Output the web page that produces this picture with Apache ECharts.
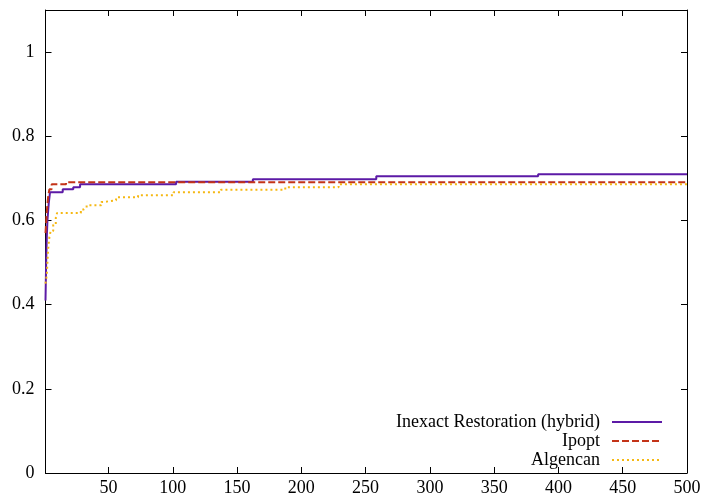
<!DOCTYPE html>
<html>
<head>
<meta charset="utf-8">
<script src="https://cdn.jsdelivr.net/npm/echarts@6/dist/echarts.min.js"></script>
<style>html,body{margin:0;padding:0;background:#fff}#c{width:705px;height:502px}</style>
</head>
<body>
<div id="c"></div>
<script>
const seriesNames = ['Inexact Restoration (hybrid)', 'Ipopt', 'Algencan'];
const irX = [1, 1.5, 2, 2.5, 3, 3.5, 4.5, 14.4, 22.6, 27.9, 102.6, 162.3, 258.3, 384.2, 500];
const irY = [0.41, 0.5, 0.56, 0.6, 0.62, 0.64, 0.667, 0.674, 0.679, 0.686, 0.692, 0.698, 0.705, 0.710, 0.710];
const ipX = [1, 2, 3, 4, 5.8, 17, 500];
const ipY = [0.57, 0.62, 0.655, 0.674, 0.686, 0.691, 0.691];
const alX = [1, 2, 2.5, 3, 4, 5, 7, 9, 10, 28.5, 30.5, 33, 44.4, 46.5, 55.9, 73, 100.6, 137.4, 187.5, 229, 500];
const alY = [0.45, 0.47, 0.5, 0.53, 0.56, 0.575, 0.59, 0.606, 0.618, 0.626, 0.63, 0.636, 0.644, 0.648, 0.655, 0.66, 0.667, 0.673, 0.679, 0.686, 0.686];
const xTicks = [50, 100, 150, 200, 250, 300, 350, 400, 450, 500];
const yTicks = [0, 0.2, 0.4, 0.6, 0.8, 1];

const zip = (xs, ys) => xs.map((x, i) => [x, ys[i]]);
const font = 'Liberation Serif';
const colors = ['#5c1aa6', '#c33318', '#f5b814'];
const dashes = ['solid', [7, 3], [2, 3]];

const chart = echarts.init(document.getElementById('c'), null, {renderer: 'canvas'});
const tickCommon = {show: true, inside: true, length: 6, lineStyle: {color: '#000', width: 1}};
const lineCommon = {show: true, onZero: false, lineStyle: {color: '#000', width: 1}};
const xBase = {type: 'value', min: 1, max: 500, splitLine: {show: false}, axisLine: lineCommon};
const yBase = {type: 'value', min: 0, max: 1.1, splitLine: {show: false}, axisLine: lineCommon};

const data = [zip(irX, irY), zip(ipX, ipY), zip(alX, alY)];
const legendTops = [413, 432, 451];

chart.setOption({
  animation: false,
  grid: {left: 45.5, right: 18, top: 10, bottom: 29, containLabel: false},
  xAxis: [
    Object.assign({}, xBase, {position: 'bottom',
      axisTick: Object.assign({}, tickCommon, {customValues: xTicks}),
      axisLabel: {customValues: xTicks, color: '#000', fontFamily: font, fontSize: 18, margin: 6}}),
    Object.assign({}, xBase, {position: 'top',
      axisTick: Object.assign({}, tickCommon, {customValues: xTicks}),
      axisLabel: {show: false}})
  ],
  yAxis: [
    Object.assign({}, yBase, {position: 'left',
      axisTick: Object.assign({}, tickCommon, {customValues: yTicks}),
      axisLabel: {customValues: yTicks, color: '#000', fontFamily: font, fontSize: 18, margin: 11,
        formatter: v => String(Math.round(v * 10) / 10)}}),
    Object.assign({}, yBase, {position: 'right',
      axisTick: Object.assign({}, tickCommon, {customValues: yTicks}),
      axisLabel: {show: false}})
  ],
  legend: seriesNames.map((n, i) => ({
    data: [n], right: 42, top: legendTops[i], orient: 'vertical', align: 'right',
    itemWidth: 50, itemHeight: 14, padding: 0,
    itemStyle: {opacity: 0},
    textStyle: {color: '#000', fontFamily: font, fontSize: 18, padding: [0, 7, 0, 0]}
  })),
  series: seriesNames.map((n, i) => ({
    name: n, type: 'line', step: 'end', data: data[i], symbol: 'none',
    xAxisIndex: 0, yAxisIndex: 0,
    lineStyle: {color: colors[i], width: 2, type: dashes[i]},
    itemStyle: {color: colors[i]}
  }))
});
</script>
</body>
</html>
